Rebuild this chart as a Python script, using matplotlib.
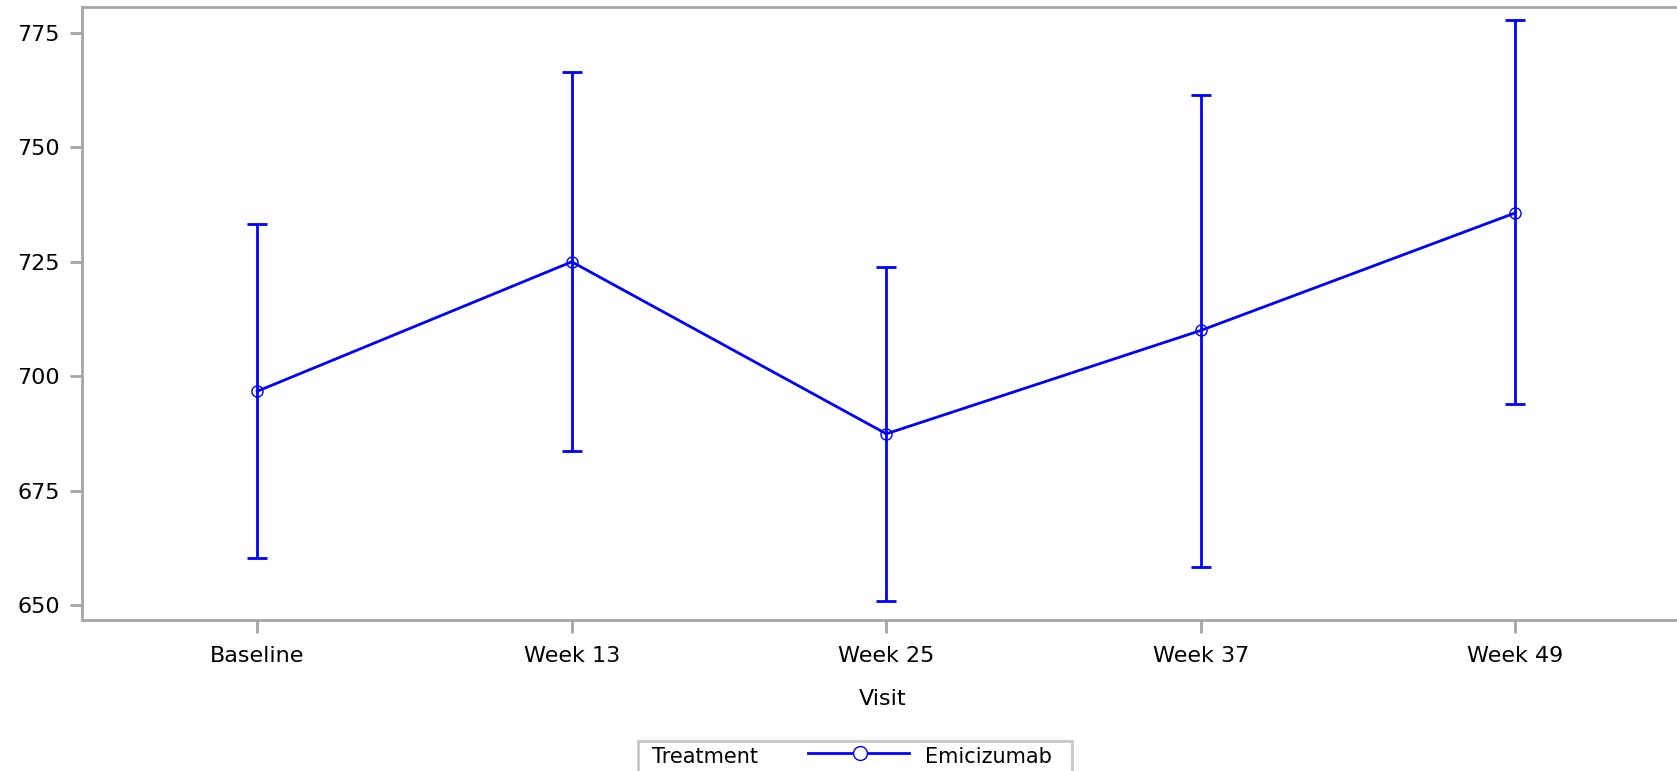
import numpy as np
import matplotlib
matplotlib.use("Agg")
import matplotlib.pyplot as plt
from matplotlib.lines import Line2D
from matplotlib.patches import Rectangle

plt.rcParams["font.family"] = ["DejaVu Sans"]
plt.rcParams["font.size"] = 16

visits = ["Baseline", "Week 13", "Week 25", "Week 37", "Week 49"]
means = [696.7, 725.0, 687.4, 710.0, 735.7]
upper = [733.2, 766.6, 723.8, 761.4, 777.8]
lower = [660.3, 683.6, 650.9, 658.2, 693.9]

BLUE = "#0000FF"
GREY = "#A6A6A6"

fig = plt.figure(figsize=(16.77, 7.71), dpi=100)
ax = fig.add_axes([82 / 1677, 1 - 620 / 771, 1.004 - 82 / 1677, (620 - 7) / 771])

x = np.arange(len(visits))
m = np.array(means)
yerr = [m - np.array(lower), np.array(upper) - m]

ax.errorbar(x, m, yerr=yerr, fmt="none", ecolor=BLUE, elinewidth=2,
            capsize=7, capthick=2, zorder=2)
ax.plot(x, m, color=BLUE, linewidth=2, marker="o", markersize=8,
        markerfacecolor="none", markeredgecolor=BLUE, markeredgewidth=1,
        zorder=3)

ax.set_xticks(x)
ax.set_xticklabels(visits)
ax.set_xlim(-0.557, 4.535)
ax.set_yticks([650, 675, 700, 725, 750, 775])
ax.set_ylim(646.7, 780.7)
ax.set_xlabel("Visit", labelpad=16)

for s in ax.spines.values():
    s.set_color(GREY)
    s.set_linewidth(2)
ax.spines["right"].set_visible(False)
ax.tick_params(color=GREY, width=2, length=9, direction="out", pad=7)
ax.tick_params(axis="x", pad=10)

# legend box at the bottom
fig.patches.append(Rectangle((638 / 1677, -0.02), 434 / 1677, 0.02 + 1 - 741 / 771,
                             transform=fig.transFigure, facecolor="white",
                             edgecolor="#C8C8C8", linewidth=2))
fig.text(652 / 1677, 1 - 757 / 771, "Treatment", va="center", ha="left", fontsize=15)
fig.lines.append(Line2D([808 / 1677, 909 / 1677], [1 - 753 / 771] * 2,
                        transform=fig.transFigure, color=BLUE, linewidth=2))
fig.lines.append(Line2D([860 / 1677], [1 - 753 / 771], transform=fig.transFigure,
                        marker="o", markersize=10, markerfacecolor="white",
                        markeredgecolor=BLUE, markeredgewidth=1, linestyle="none"))
fig.text(925 / 1677, 1 - 757 / 771, "Emicizumab", va="center", ha="left", fontsize=15)

fig.savefig("out.png", dpi=100)
